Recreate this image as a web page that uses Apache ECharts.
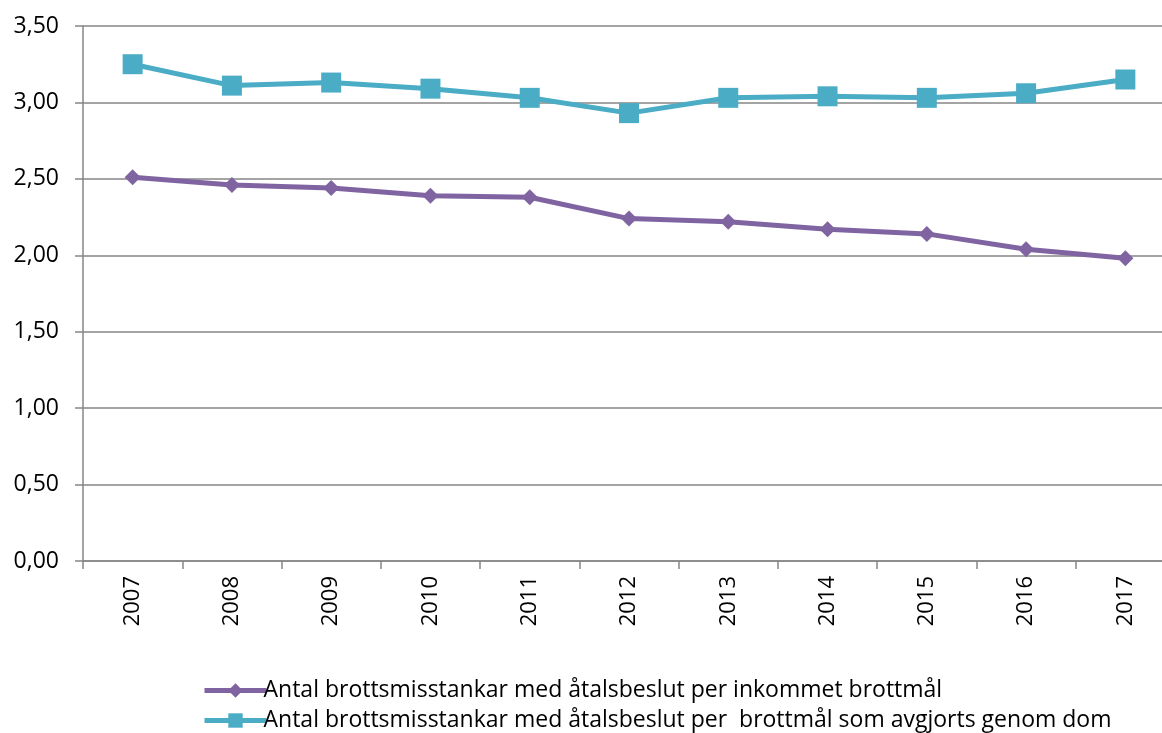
<!DOCTYPE html>
<html>
<head>
<meta charset="utf-8">
<script src="https://cdn.jsdelivr.net/npm/echarts@6/dist/echarts.min.js"></script>
<style>
  html, body { margin: 0; padding: 0; background: #fff; }
  #chart { width: 1162px; height: 733px; }
</style>
</head>
<body>
<div id="chart"></div>
<script>
const years = ['2007', '2008', '2009', '2010', '2011', '2012', '2013', '2014', '2015', '2016', '2017']
const perIncoming = [2.51, 2.46, 2.44, 2.39, 2.38, 2.24, 2.22, 2.17, 2.14, 2.04, 1.98]
const perJudgement = [3.25, 3.11, 3.13, 3.09, 3.03, 2.93, 3.03, 3.04, 3.03, 3.06, 3.15]
const seriesNames = [
  'Antal brottsmisstankar med åtalsbeslut per inkommet brottmål',
  'Antal brottsmisstankar med åtalsbeslut per  brottmål som avgjorts genom dom'
]

const chart = echarts.init(document.getElementById('chart'))
const font = 'Open Sans'
const gray = '#868686'

// en legend per rad, annars bryts den vertikala listan till kolumner
const legendRow = (name, top) => ({
  orient: 'horizontal',
  left: 197,
  top: top,
  itemWidth: 62,
  itemHeight: 18,
  data: [name],
  lineStyle: { width: 5 },
  textStyle: { fontFamily: font, fontSize: 23, color: '#000', padding: [0, 0, 0, -8] }
})

chart.setOption({
  animation: false,
  // plotytan går utanför bildens högra kant, som i originalet
  grid: { left: 83, width: 1092, top: 26, bottom: 172, outerBoundsMode: 'none' },
  legend: [legendRow(seriesNames[0], 674), legendRow(seriesNames[1], 704)],
  xAxis: {
    type: 'category',
    data: years,
    boundaryGap: true,
    axisLine: { lineStyle: { color: gray, width: 1.5 } },
    axisTick: { show: true, length: 8, lineStyle: { color: gray, width: 1.5 } },
    axisLabel: { rotate: 90, fontFamily: font, fontSize: 22, color: '#000', margin: 15 }
  },
  yAxis: {
    type: 'value',
    min: 0,
    max: 3.5,
    interval: 0.5,
    axisLine: { show: true, lineStyle: { color: gray, width: 1.5 } },
    axisTick: { show: true, length: 8, lineStyle: { color: gray, width: 1.5 } },
    splitLine: { lineStyle: { color: gray, width: 1.5 } },
    axisLabel: {
      fontFamily: font, fontSize: 23, color: '#000', margin: 24,
      formatter: v => v.toFixed(2).replace('.', ',')
    }
  },
  series: [
    {
      name: seriesNames[0],
      type: 'line',
      data: perIncoming,
      symbol: 'diamond',
      symbolSize: 16,
      color: '#8064A2',
      lineStyle: { width: 5 },
      itemStyle: { color: '#8064A2' }
    },
    {
      name: seriesNames[1],
      type: 'line',
      data: perJudgement,
      symbol: 'rect',
      symbolSize: 20,
      color: '#4BACC6',
      lineStyle: { width: 5 },
      itemStyle: { color: '#4BACC6' }
    }
  ]
})
</script>
</body>
</html>
